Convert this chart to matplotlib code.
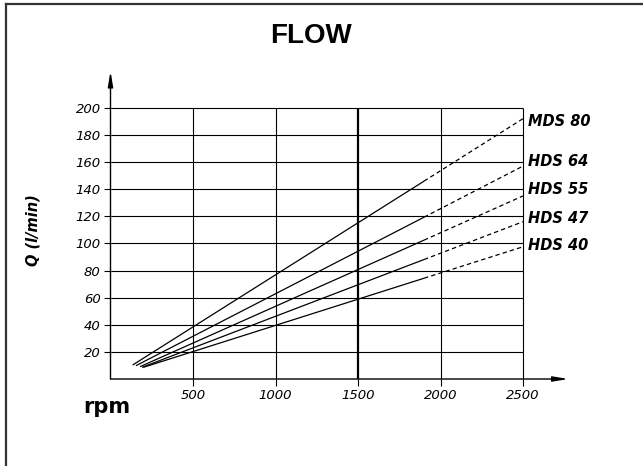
import matplotlib
matplotlib.use("Agg")
import matplotlib.pyplot as plt
from matplotlib.lines import Line2D

# ---- data ----
series = ["MDS 80", "HDS 64", "HDS 55", "HDS 47", "HDS 40"]
start_rpm = [134, 154, 179, 191, 199]
start_q = [10.3, 9.8, 9.1, 8.6, 8.6]
break_rpm = 1900
break_q = [145.9, 119.3, 102.4, 88.1, 74.3]
end_rpm = 2500
end_q = [192.0, 157.0, 135.0, 116.0, 97.5]
label_q = [189.7, 160.3, 139.4, 118.7, 98.3]

x_ticks = [500, 1000, 1500, 2000, 2500]
y_ticks = [20, 40, 60, 80, 100, 120, 140, 160, 180, 200]

fig = plt.figure(figsize=(6.43, 4.66), dpi=100)
ax = fig.add_axes([110.5 / 643, (466 - 379) / 466, 462 / 643, 311.9 / 466])
ax.set_xlim(0, 2800)
ax.set_ylim(0, 230)
for s in ax.spines.values():
    s.set_visible(False)
ax.patch.set_visible(False)

# grid
ax.hlines(y_ticks, 0, 2500, colors="black", lw=0.8)
for xv in x_ticks:
    ax.vlines(xv, 0, 200, colors="black", lw=1.6 if xv == 1500 else 0.8)

# axes with arrows
ax.annotate("", xy=(2775, 0), xytext=(0, 0),
            arrowprops=dict(arrowstyle="-|>,head_length=0.9,head_width=0.15", color="black", lw=1.0, shrinkA=0, shrinkB=0))
ax.annotate("", xy=(0, 227), xytext=(0, 0),
            arrowprops=dict(arrowstyle="-|>,head_length=0.9,head_width=0.15", color="black", lw=1.0, shrinkA=0, shrinkB=0))

# series
for name, sr, sq, bq, eq, lq in zip(series, start_rpm, start_q, break_q, end_q, label_q):
    ax.plot([sr, break_rpm], [sq, bq], color="black", lw=0.9, solid_capstyle="butt")
    ax.plot([break_rpm, end_rpm], [bq, eq], color="black", lw=0.9, dashes=(3.5, 2.5))
    ax.text(2532, lq, name, fontsize=10.5, fontweight="bold", fontstyle="italic",
            ha="left", va="center")

ax.set_xticks(x_ticks)
ax.set_yticks(y_ticks)
ax.set_xticklabels([str(v) for v in x_ticks], fontstyle="italic", fontsize=9.5)
ax.set_yticklabels([str(v) for v in y_ticks], fontstyle="italic", fontsize=9.5)
ax.tick_params(axis="both", direction="out", length=5, width=0.8, pad=2)

fig.text(33 / 643, 1 - 230 / 466, "Q (l/min)", rotation=90, fontsize=10.5,
         fontweight="bold", fontstyle="italic", ha="center", va="center")
fig.text(107 / 643, 1 - 407 / 466, "rpm", fontsize=15, fontweight="bold",
         ha="center", va="center")
fig.text(311 / 643, 1 - 36 / 466, "FLOW", fontsize=20, fontweight="bold",
         family="Liberation Sans", ha="center", va="center")

# frame
fig.add_artist(Line2D([6 / 643, 6 / 643], [0, 1 - 4 / 466], transform=fig.transFigure,
                      color="#333333", lw=1.6))
fig.add_artist(Line2D([6 / 643, 1], [1 - 4 / 466, 1 - 4 / 466], transform=fig.transFigure,
                      color="#333333", lw=1.6))

fig.savefig("out.png", dpi=100)
